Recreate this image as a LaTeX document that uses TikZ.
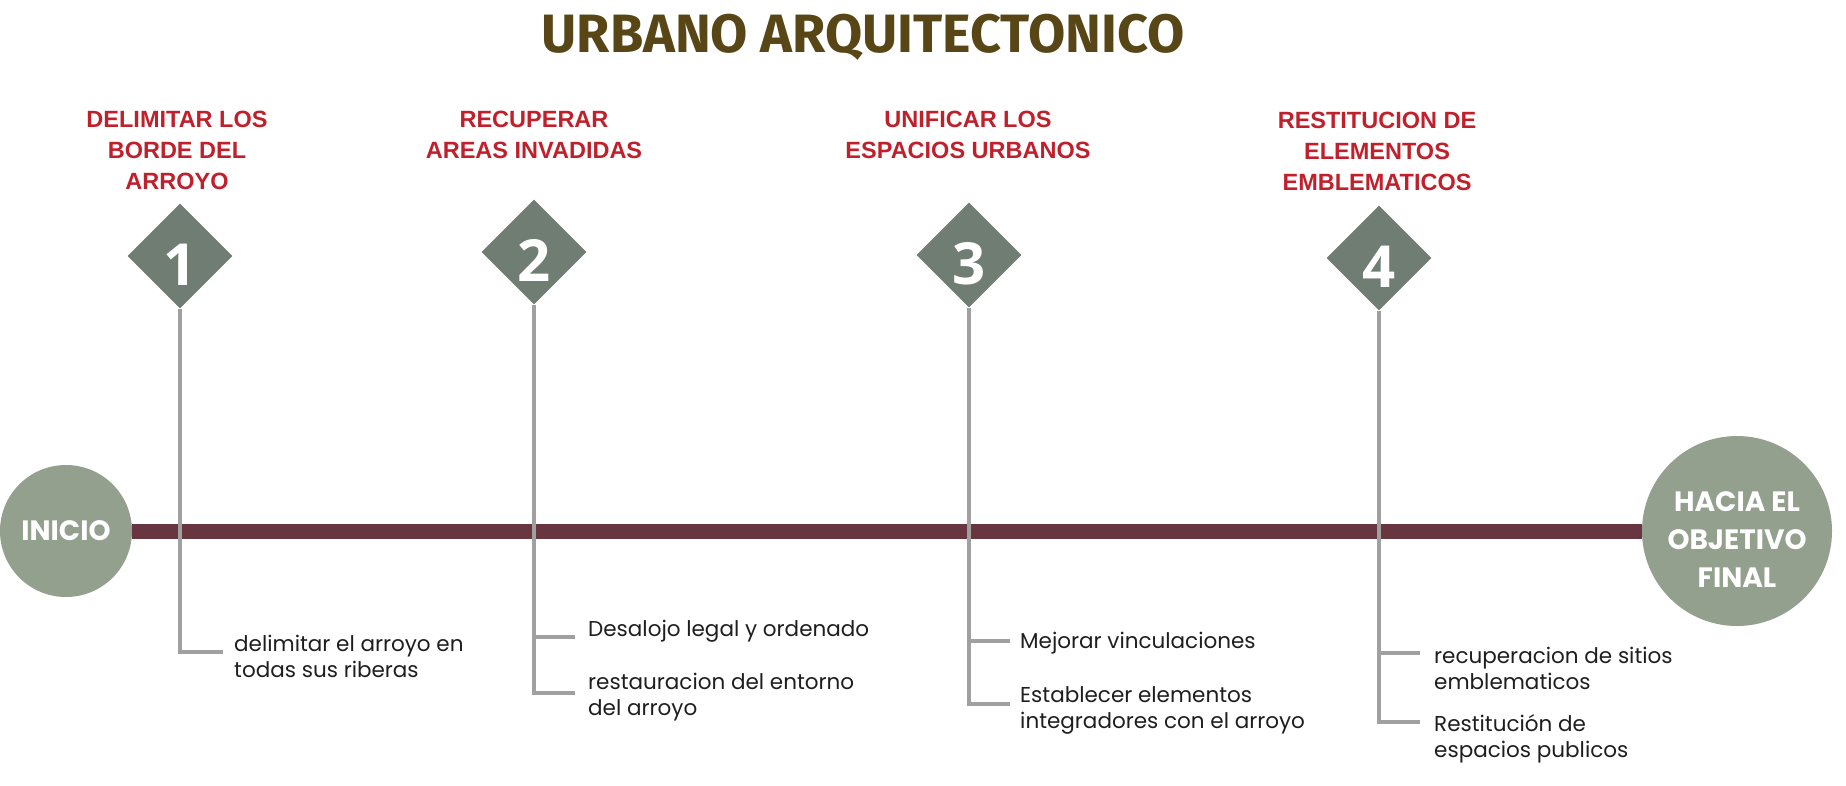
\documentclass[tikz,border=0pt]{standalone}
\usepackage{fontspec}
\setmainfont{Open Sans}
\newfontfamily\titlefont{Fira Sans}
\newfontfamily\headfont{Liberation Sans}
\newfontfamily\roundfont{Poppins}
\usetikzlibrary{shapes.geometric, positioning}

\definecolor{titlebrown}{RGB}{88,70,22}
\definecolor{headred}{RGB}{192,32,44}
\definecolor{stepgreen}{RGB}{111,125,114}
\definecolor{sage}{RGB}{147,160,142}
\definecolor{barred}{RGB}{104,54,64}
\definecolor{stemgray}{RGB}{160,160,160}
\definecolor{itemblack}{RGB}{30,30,30}

\begin{document}
\begin{tikzpicture}[x=1pt, y=-1pt,
    title/.style={text=titlebrown, inner sep=0pt,
                  font=\titlefont\bfseries\fontsize{54}{54}\selectfont},
    heading/.style={anchor=north, text=headred, align=center, inner sep=0pt,
                    font=\headfont\bfseries\fontsize{23.5}{31}\selectfont},
    marker/.style={diamond, fill=stepgreen, minimum width=105pt, minimum height=105pt,
                   inner sep=0pt, text=white, text height=58pt, text depth=0pt,
                   font=\bfseries\fontsize{58}{58}\selectfont},
    endpoint/.style={circle, fill=sage, text=white, align=center, inner sep=0pt},
    endlabel/.style={text=white, align=center, inner sep=0pt,
                     font=\roundfont\bfseries\fontsize{28}{38}\selectfont},
    item/.style={anchor=west, align=left, inner sep=0pt, text=itemblack,
                 font=\roundfont\fontsize{21.5}{26}\selectfont},
    bar/.style={draw=barred, line width=15pt},
    stem/.style={draw=stemgray, line width=3.5pt}]
\useasboundingbox (0,0) rectangle (1846,785);

\node[title] (title) at (863,37) {URBANO ARQUITECTONICO};

% timeline
\node[endpoint, minimum size=132pt, font=\roundfont\bfseries\fontsize{28}{28}\selectfont]
    (start) at (66,531) {INICIO};
\node[endpoint, minimum size=190pt] (goal) at (1737,531) {};
\node[endlabel, yshift=-9pt] (goaltext) at (goal) {HACIA EL\\OBJETIVO\\FINAL};
\draw[bar] (start.east) -- (goal.west);

% steps
\node[marker] (d1) at (180,256) {1};
\node[marker] (d2) at (534,252) {2};
\node[marker] (d3) at (969,255) {3};
\node[marker] (d4) at (1379,258) {4};

\node[heading] (h1) at (177,111) {DELIMITAR LOS\\BORDE DEL\\ARROYO};
\node[heading] (h2) at (534,111) {RECUPERAR\\AREAS INVADIDAS};
\node[heading] (h3) at (968,111) {UNIFICAR LOS\\ESPACIOS URBANOS};
\node[heading] (h4) at (1377,112) {RESTITUCION DE\\ELEMENTOS\\EMBLEMATICOS};

\coordinate (e1) at (223,652);
\coordinate (e2a) at (575,637);
\coordinate (e2b) at (575,693);
\coordinate (e3a) at (1010,641);
\coordinate (e3b) at (1010,704);
\coordinate (e4a) at (1420,653);
\coordinate (e4b) at (1420,722);

\node[item] (t1) at (234,656) {delimitar el arroyo en\\todas sus riberas};
\node[item] (t2a) at (588,631) {Desalojo legal y ordenado};
\node[item] (t2b) at (588,697) {restauracion del entorno\\del arroyo};
\node[item] (t3a) at (1020,643) {Mejorar vinculaciones};
\node[item] (t3b) at (1020,710) {Establecer elementos\\integradores con el arroyo};
\node[item] (t4a) at (1434,668) {recuperacion de sitios\\emblematicos};
\node[item] (t4b) at (1434,739) {Restitución de\\espacios publicos};

\draw[stem] (d1.south) |- (e1);
\draw[stem] (d2.south) |- (e2b);
\draw[stem] (d2.south |- e2a) -- (e2a);
\draw[stem] (d3.south) |- (e3b);
\draw[stem] (d3.south |- e3a) -- (e3a);
\draw[stem] (d4.south) |- (e4b);
\draw[stem] (d4.south |- e4a) -- (e4a);
\end{tikzpicture}
\end{document}
